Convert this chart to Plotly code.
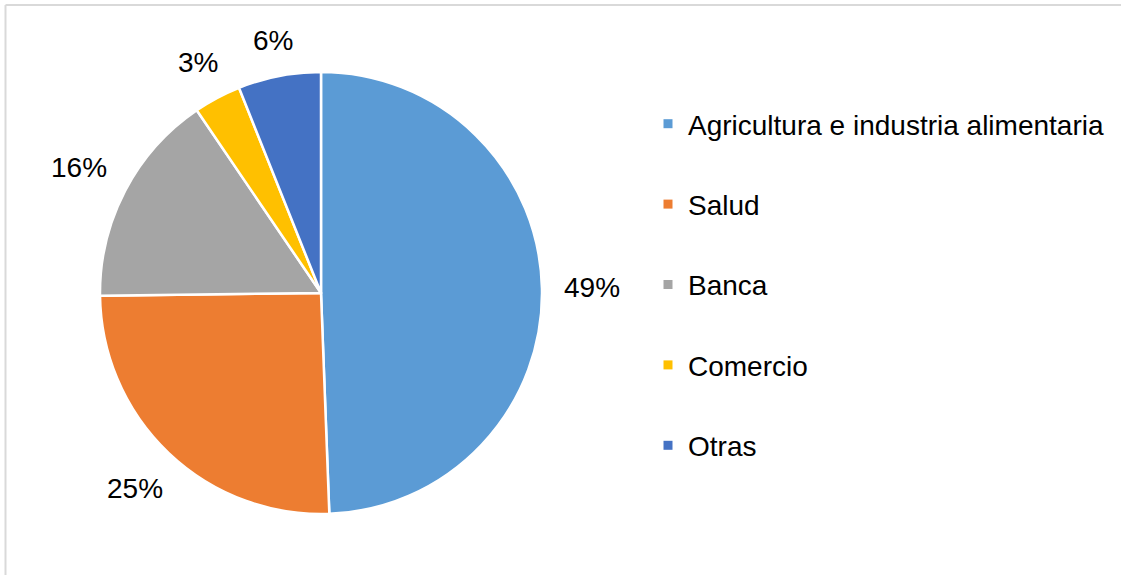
import math
import plotly.graph_objects as go

labels = ["Agricultura e industria alimentaria", "Salud", "Banca", "Comercio", "Otras"]
values = [49.4, 25.4, 15.7, 3.45, 6.05]
colors = ["#5B9BD5", "#ED7D31", "#A5A5A5", "#FFC000", "#4472C4"]

W, H = 1121, 575
FONT = "Liberation Sans, Arial, sans-serif"
FS = 28

# pie geometry (pixels)
CX, CY, R = 321, 293, 221
GAP = 22

fig = go.Figure()
fig.add_trace(go.Pie(
    labels=labels, values=values, sort=False, direction="clockwise", rotation=0,
    marker=dict(colors=colors, line=dict(color="white", width=2.5)),
    textinfo="none",
    showlegend=False, hoverinfo="label+percent",
    domain=dict(x=[(CX - R) / W, (CX + R) / W], y=[(H - CY - R) / H, (H - CY + R) / H]),
))

for i, (lab, col) in enumerate(zip(labels, colors)):
    fig.add_trace(go.Scatter(
        x=[None], y=[None], mode="markers", name=lab, legendgroup=f"g{i}",
        marker=dict(symbol="square", size=9, color=col),
        showlegend=True,
    ))

# outside percentage labels placed along each slice's mid-angle
total = sum(values)
annotations = []
cum = 0.0
for v in values:
    mid = (cum + v / 2) / total * 2 * math.pi
    cum += v
    pct = f"{round(v / total * 100)}%"
    dx, dy = math.sin(mid), -math.cos(mid)
    hw = (0.556 * (len(pct) - 1) + 0.889) * FS / 2
    hh = 0.716 * FS / 2
    support = abs(dx) * hw + abs(dy) * hh
    r = R + GAP + support
    px, py = CX + r * dx, CY + r * dy
    annotations.append(dict(
        x=px / W, y=1 - py / H, xref="paper", yref="paper",
        text=pct, showarrow=False, xanchor="center", yanchor="middle",
        font=dict(family=FONT, size=FS, color="#000000"),
    ))

fig.update_layout(
    width=W, height=H,
    margin=dict(l=0, r=0, t=0, b=0),
    paper_bgcolor="white", plot_bgcolor="white",
    xaxis=dict(visible=False), yaxis=dict(visible=False),
    font=dict(family=FONT, size=FS, color="#000000"),
    annotations=annotations,
    legend=dict(x=648 / W, xanchor="left", y=(H - 99) / H, yanchor="top",
                tracegroupgap=41, font=dict(family=FONT, size=FS, color="#000000"),
                bgcolor="rgba(0,0,0,0)"),
    shapes=[
        dict(type="line", xref="paper", yref="paper",
             x0=5.5 / W, x1=1.2, y0=1 - 5 / H, y1=1 - 5 / H,
             line=dict(color="#D9D9D9", width=2), layer="below"),
        dict(type="line", xref="paper", yref="paper",
             x0=5.5 / W, x1=5.5 / W, y0=-0.2, y1=1 - 5 / H,
             line=dict(color="#D9D9D9", width=2), layer="below"),
    ],
)

fig.write_html("out.html")
